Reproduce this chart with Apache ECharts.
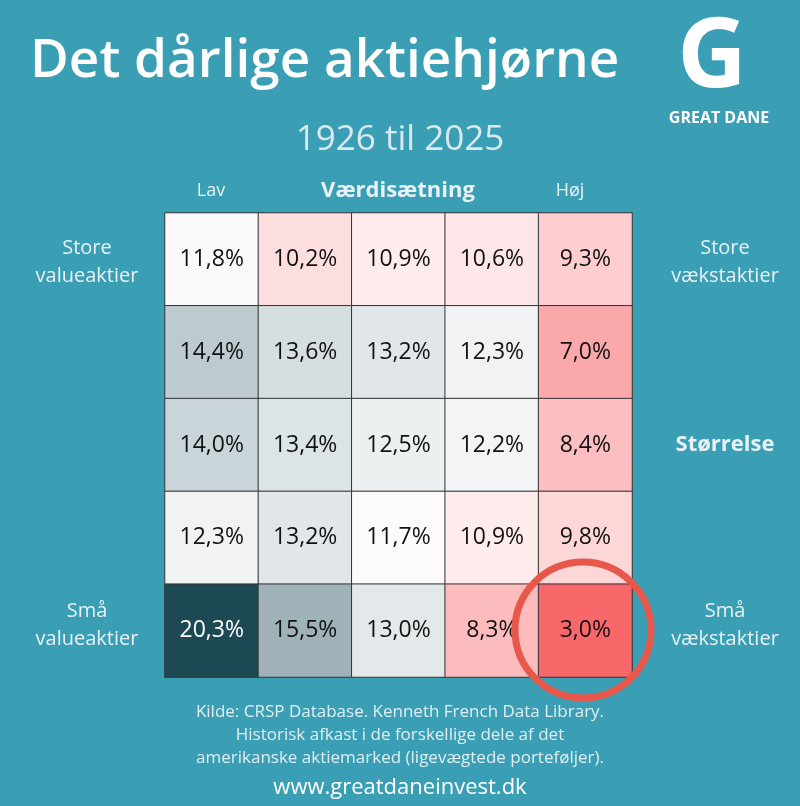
<!DOCTYPE html><html><head><meta charset="utf-8"><script src="https://cdn.jsdelivr.net/npm/echarts@6/dist/echarts.min.js"></script>
<style>html,body{margin:0;padding:0;background:#3a9fb5}#c{width:800px;height:806px}</style></head><body><div id="c"></div><script>
const valueCols=['Lav','2','3','4','Høj'];
const sizeRows=['Store','2','3','4','Små'];
const returns=[
 [11.8,10.2,10.9,10.6,9.3],
 [14.4,13.6,13.2,12.3,7.0],
 [14.0,13.4,12.5,12.2,8.4],
 [12.3,13.2,11.7,10.9,9.8],
 [20.3,15.5,13.0,8.3,3.0]
];
const footerLines=['Kilde: CRSP Database. Kenneth French Data Library.','Historisk afkast i de forskellige dele af det','amerikanske aktiemarked (ligevægtede porteføljer).'];
const data=[];
returns.forEach((r,i)=>r.forEach((v,j)=>data.push([j,i,v])));
const F='"Open Sans", Lato, sans-serif';
const txt=(x,y,t,o)=>Object.assign({type:'text',z:10,x,y,style:Object.assign({text:t,fill:'#fff',font:'20px '+F,textAlign:'center',textVerticalAlign:'middle'},o||{})});
const ch=echarts.init(document.getElementById('c'));
ch.setOption({
 backgroundColor:'#3a9fb5',
 grid:{left:165,right:168,top:213,bottom:129},
 xAxis:{type:'category',data:valueCols,show:false},
 yAxis:{type:'category',data:sizeRows,inverse:true,show:false},
 visualMap:{show:false,min:3,max:20.3,dimension:2,inRange:{color:['#f8676a','#f98a8c','#fba0a3','#fcbabc','#fdd8da','#fefbfb','#dce4e7','#a8bac0','#7a959c','#4b6f78','#1c4954']}},
 series:[{type:'heatmap',data,itemStyle:{borderColor:'#333',borderWidth:1},
  label:{show:true,color:'#111',fontSize:23,fontFamily:F,rich:{w:{color:'#fff',fontSize:23,fontFamily:F}},
   formatter:p=>{const s=p.value[2].toFixed(1).replace('.',',')+'%';return p.value[2]>18?'{w|'+s+'}':s;}}}],
 graphic:[
  txt(30,62,'Det dårlige aktiehjørne',{font:'600 53px '+F,textAlign:'left'}),
  txt(712,60,'G',{font:'bold 96px '+F}),
  txt(719,118,'GREAT DANE',{font:'bold 16px '+F}),
  txt(400,140,'1926 til 2025',{font:'35px '+F,fill:'#dbe9ee'}),
  txt(211,191,'Lav',{font:'18px '+F,fill:'#e8f2f5'}),
  txt(398,191,'Værdisætning',{font:'bold 22px '+F,fill:'#e8f2f5'}),
  txt(570,191,'Høj',{font:'18px '+F,fill:'#e8f2f5'}),
  txt(87,262,'Store\nvalueaktier',{font:'20px '+F,fill:'#e8f2f5',lineHeight:28}),
  txt(87,625,'Små\nvalueaktier',{font:'20px '+F,fill:'#e8f2f5',lineHeight:28}),
  txt(725,262,'Store\nvækstaktier',{font:'20px '+F,fill:'#e8f2f5',lineHeight:28}),
  txt(725,445,'Størrelse',{font:'bold 22px '+F,fill:'#e8f2f5'}),
  txt(725,625,'Små\nvækstaktier',{font:'20px '+F,fill:'#e8f2f5',lineHeight:28}),
  {type:'circle',z:20,shape:{cx:583,cy:630,r:68},style:{fill:'none',stroke:'#e8584a',lineWidth:7}},
  txt(400,712,footerLines[0],{font:'17px '+F,fill:'#e0eef2'}),
  txt(400,735,footerLines[1],{font:'17px '+F,fill:'#e0eef2'}),
  txt(400,758,footerLines[2],{font:'17px '+F,fill:'#e0eef2'}),
  txt(400,788,'www.greatdaneinvest.dk',{font:'22px '+F,fill:'#fff'})
 ]
});
</script></body></html>
